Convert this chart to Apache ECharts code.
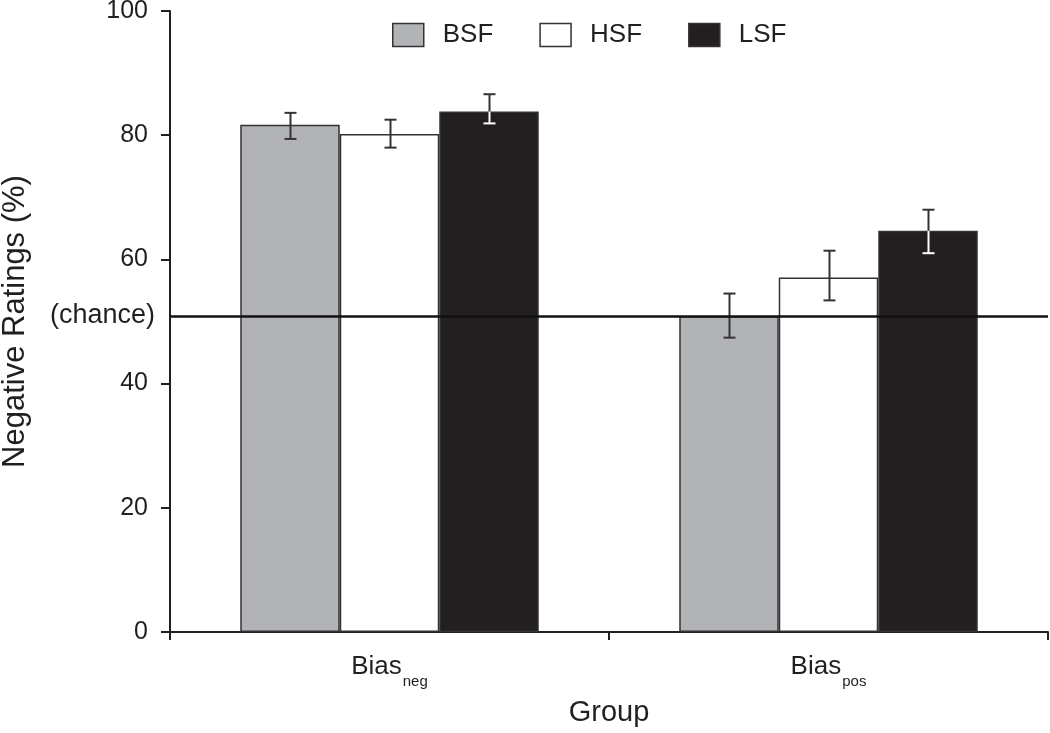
<!DOCTYPE html>
<html>
<head>
<meta charset="utf-8">
<script src="https://cdn.jsdelivr.net/npm/echarts@6/dist/echarts.min.js"></script>
<style>html,body{margin:0;padding:0;background:#fff}#c{width:1050px;height:733px}</style>
</head>
<body>
<div id="c"></div>
<script>
const categories = ['Bias_neg', 'Bias_pos'];
const subscripts = ['neg', 'pos'];
const seriesNames = ['BSF', 'HSF', 'LSF'];
const bsf = [81.7, 50.9];
const hsf = [80.2, 57.1];
const lsf = [83.8, 64.6];
const bsfErrLow = [79.4, 47.4];
const bsfErrHigh = [83.6, 54.5];
const hsfErrLow = [78.0, 53.4];
const hsfErrHigh = [82.5, 61.4];
const lsfErrLow = [81.9, 61.0];
const lsfErrHigh = [86.6, 68.0];
const chanceValue = 50.9;
const yTicks = [0, 20, 40, 60, 80, 100];

const FONT = 'Liberation Sans, Arial, sans-serif';
const INK = '#231f20';
const EDGE = '#333333';
const colors = ['#b1b3b6', '#ffffff', '#231f20'];
const CAT_GAP = 0.32;

const values = [bsf, hsf, lsf];
const lows = [bsfErrLow, hsfErrLow, lsfErrLow];
const highs = [bsfErrHigh, hsfErrHigh, lsfErrHigh];

function errRender(sIdx) {
  return function (params, api) {
    const cat = api.value(0);
    const lo = api.value(1), hi = api.value(2), bar = api.value(3);
    const band = api.size([1, 0])[0];
    const bw = band * (1 - CAT_GAP) / 3;
    const c = api.coord([cat, bar]);
    const x = Math.round(c[0] + (sIdx - 1) * bw) + 0.5;
    const yTop = api.coord([cat, hi])[1];
    const yLo = api.coord([cat, lo])[1];
    const yBar = c[1];
    const cap = 6;
    const children = [];
    const dark = EDGE;
    if (sIdx === 2) {
      children.push({type: 'line', shape: {x1: x, y1: yTop, x2: x, y2: yBar}, style: {stroke: dark, lineWidth: 2}});
      children.push({type: 'line', shape: {x1: x - cap, y1: yTop, x2: x + cap, y2: yTop}, style: {stroke: dark, lineWidth: 2}});
      children.push({type: 'line', shape: {x1: x, y1: yBar, x2: x, y2: yLo}, style: {stroke: '#ffffff', lineWidth: 2}});
      children.push({type: 'line', shape: {x1: x - cap, y1: yLo, x2: x + cap, y2: yLo}, style: {stroke: '#ffffff', lineWidth: 2}});
    } else {
      children.push({type: 'line', shape: {x1: x, y1: yTop, x2: x, y2: yLo}, style: {stroke: dark, lineWidth: 2}});
      children.push({type: 'line', shape: {x1: x - cap, y1: yTop, x2: x + cap, y2: yTop}, style: {stroke: dark, lineWidth: 2}});
      children.push({type: 'line', shape: {x1: x - cap, y1: yLo, x2: x + cap, y2: yLo}, style: {stroke: dark, lineWidth: 2}});
    }
    return {type: 'group', children: children};
  };
}

const series = [];
seriesNames.forEach(function (name, i) {
  series.push({
    name: name,
    type: 'bar',
    data: values[i],
    barGap: '0%',
    barCategoryGap: (CAT_GAP * 100) + '%',
    itemStyle: {color: colors[i], borderColor: EDGE, borderWidth: 1.5},
    emphasis: {disabled: true},
    z: 2
  });
});
seriesNames.forEach(function (name, i) {
  series.push({
    name: name + ' err',
    type: 'custom',
    renderItem: errRender(i),
    data: categories.map(function (c, k) { return [k, lows[i][k], highs[i][k], values[i][k]]; }),
    encode: {x: 0, y: [1, 2]},
    z: 4,
    silent: true
  });
});
series.push({
  name: 'chance',
  type: 'line',
  data: [],
  silent: true,
  markLine: {
    silent: true,
    symbol: 'none',
    z: 6,
    lineStyle: {color: '#111', width: 2.5, type: 'solid'},
    label: {show: true, position: 'start', formatter: '(chance)', fontFamily: FONT, fontSize: 27, color: INK, distance: 15},
    emphasis: {disabled: true},
    data: [{yAxis: chanceValue}]
  }
});

const chart = echarts.init(document.getElementById('c'), null, {renderer: 'canvas'});
chart.setOption({
  animation: false,
  backgroundColor: '#fff',
  textStyle: {fontFamily: FONT},
  legend: {
    data: seriesNames.map(function (n, i) {
      return {name: n, icon: 'rect', itemStyle: {color: colors[i], borderColor: EDGE, borderWidth: 1.5}};
    }),
    left: 387, top: 17,
    itemWidth: 31, itemHeight: 23, itemGap: 46,
    textStyle: {fontFamily: FONT, fontSize: 26, color: INK, padding: [0, 0, 0, 14]},
    selectedMode: false
  },
  grid: {left: 170, right: 2, top: 11, bottom: 101, containLabel: false, outerBoundsMode: 'none'},
  xAxis: {
    type: 'category',
    data: categories,
    boundaryGap: true,
    name: 'Group',
    nameLocation: 'middle',
    nameGap: 66,
    nameTextStyle: {fontFamily: FONT, fontSize: 29, color: INK},
    axisLine: {lineStyle: {color: INK, width: 2}},
    axisTick: {show: true, length: 8, lineStyle: {color: INK, width: 2}},
    axisLabel: {
      margin: 20,
      formatter: function (v, idx) { return '{a|Bias}{b|' + subscripts[idx] + '}'; },
      rich: {
        a: {fontFamily: FONT, fontSize: 26, color: INK, lineHeight: 30},
        b: {fontFamily: FONT, fontSize: 15, color: INK, lineHeight: 30, padding: [30, 0, 0, 1]}
      }
    }
  },
  yAxis: {
    type: 'value',
    min: 0, max: 100, interval: 20,
    name: 'Negative Ratings (%)',
    nameLocation: 'middle',
    nameGap: 139,
    nameTextStyle: {fontFamily: FONT, fontSize: 31, color: INK},
    axisLine: {show: true, lineStyle: {color: INK, width: 2}},
    axisTick: {show: true, length: 9, lineStyle: {color: INK, width: 2}},
    axisLabel: {margin: 22, fontFamily: FONT, fontSize: 25, color: INK,
      formatter: function (v) { return yTicks.indexOf(v) >= 0 ? String(v) : ''; }},
    splitLine: {show: false}
  },
  series: series
});
</script>
</body>
</html>
